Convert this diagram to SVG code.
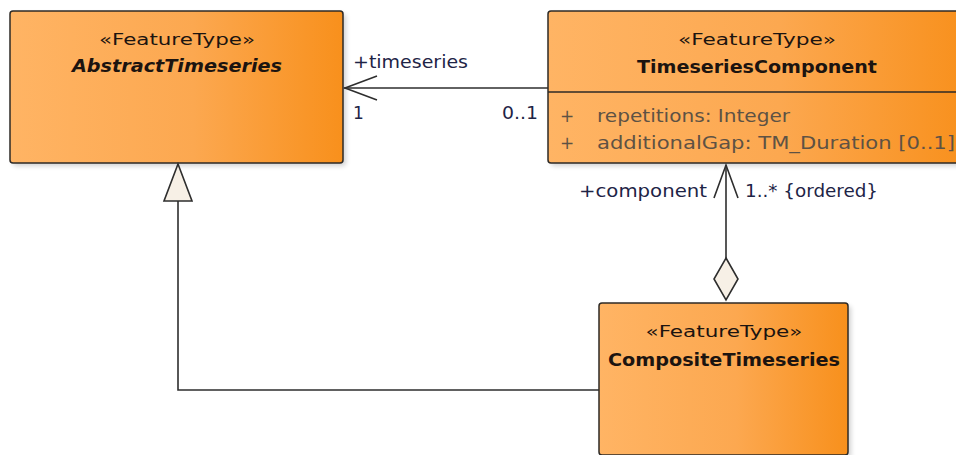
<svg xmlns="http://www.w3.org/2000/svg" width="956" height="455" viewBox="0 0 956 455">
  <defs>
    <linearGradient id="orange" x1="0" y1="0" x2="1" y2="0">
      <stop offset="0" stop-color="#ffb464"/>
      <stop offset="0.55" stop-color="#fca850"/>
      <stop offset="1" stop-color="#f8901c"/>
    </linearGradient>
    <filter id="shadow" x="-10%" y="-10%" width="130%" height="130%">
      <feGaussianBlur stdDeviation="2.5"/>
    </filter>
  </defs>
  <style>
    .box { fill: url(#orange); stroke: #2e2a26; stroke-width: 1.5; }
    .shade { fill: #000; opacity: 0.18; filter: url(#shadow); }
    .stereo { font-family: "DejaVu Sans", sans-serif; font-size: 16.5px; fill: #1c1410; text-anchor: middle; }
    .name { font-family: "DejaVu Sans", sans-serif; font-size: 18px; font-weight: bold; fill: #1c1410; text-anchor: middle; }
    .attr { font-family: "DejaVu Sans", sans-serif; font-size: 17px; fill: #5e5244; }
    .lbl { font-family: "DejaVu Sans", sans-serif; font-size: 17px; fill: #1e2446; }
    .edge { fill: none; stroke: #2e2e2e; stroke-width: 1.6; }
    .head { fill: #f7f0e6; stroke: #2e2e2e; stroke-width: 1.6; stroke-linejoin: miter; }
  </style>

  <!-- AbstractTimeseries -->
  <g id="AbstractTimeseries">
    <rect class="shade" x="13" y="14" width="333" height="152" rx="3"/>
    <rect class="box" x="10" y="11" width="333" height="152" rx="3"/>
    <text class="stereo" x="177" y="45" textLength="156" lengthAdjust="spacingAndGlyphs">«FeatureType»</text>
    <text class="name" x="177" y="72" font-style="italic" textLength="210" lengthAdjust="spacingAndGlyphs">AbstractTimeseries</text>
  </g>

  <!-- TimeseriesComponent -->
  <g id="TimeseriesComponent">
    <rect class="shade" x="551" y="14" width="420" height="152" rx="3"/>
    <rect class="box" x="548" y="11" width="420" height="152" rx="3"/>
    <line x1="548" y1="92" x2="968" y2="92" stroke="#2e2a26" stroke-width="1.5"/>
    <text class="stereo" x="757" y="45" textLength="158" lengthAdjust="spacingAndGlyphs">«FeatureType»</text>
    <text class="name" x="757" y="73" textLength="240" lengthAdjust="spacingAndGlyphs">TimeseriesComponent</text>
    <text class="attr" x="560" y="122">+</text>
    <text class="attr" x="597" y="122" textLength="193" lengthAdjust="spacingAndGlyphs">repetitions: Integer</text>
    <text class="attr" x="560" y="149">+</text>
    <text class="attr" x="597" y="149" textLength="358" lengthAdjust="spacingAndGlyphs">additionalGap: TM_Duration [0..1]</text>
  </g>

  <!-- CompositeTimeseries -->
  <g id="CompositeTimeseries">
    <rect class="shade" x="602" y="306" width="249" height="152" rx="3"/>
    <rect class="box" x="599" y="303" width="249" height="152" rx="3"/>
    <text class="stereo" x="724" y="337" textLength="157" lengthAdjust="spacingAndGlyphs">«FeatureType»</text>
    <text class="name" x="724" y="366" textLength="232" lengthAdjust="spacingAndGlyphs">CompositeTimeseries</text>
  </g>

  <!-- Connectors -->
  <g id="connectors">
    <!-- association TimeseriesComponent -> AbstractTimeseries -->
    <line class="edge" x1="344" y1="88" x2="548" y2="88"/>
    <polyline class="edge" points="377,76 345,88 377,100"/>
    <text class="lbl" x="353" y="68" textLength="115" lengthAdjust="spacingAndGlyphs">+timeseries</text>
    <text class="lbl" x="353" y="119">1</text>
    <text class="lbl" x="502" y="119" textLength="36" lengthAdjust="spacingAndGlyphs">0..1</text>

    <!-- aggregation CompositeTimeseries <>-> TimeseriesComponent -->
    <line class="edge" x1="726" y1="165" x2="726" y2="258"/>
    <polyline class="edge" points="714,198 726,165 738,198"/>
    <polygon class="head" points="726,258 738,279 726,300 714,279"/>
    <text class="lbl" x="707" y="197" text-anchor="end" textLength="128" lengthAdjust="spacingAndGlyphs">+component</text>
    <text class="lbl" x="745" y="197" textLength="133" lengthAdjust="spacingAndGlyphs">1..* {ordered}</text>

    <!-- generalization CompositeTimeseries -> AbstractTimeseries -->
    <polyline class="edge" points="599,390 178,390 178,201"/>
    <polygon class="head" points="178,164 192,201 164,201"/>
  </g>
</svg>
